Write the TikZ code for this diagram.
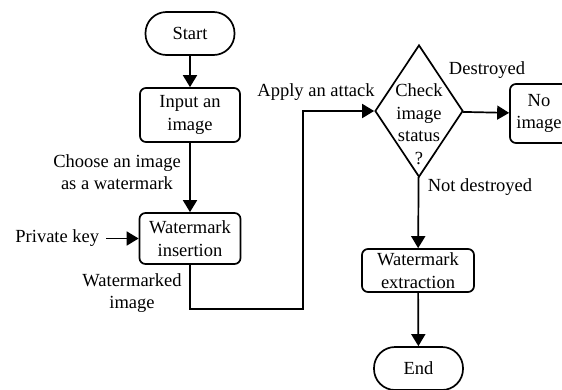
\documentclass[tikz,border=0pt]{standalone}
\usepackage{fontspec}
\setmainfont{Liberation Serif}
\usetikzlibrary{shapes.geometric,positioning,arrows.meta}
\tikzset{
  terminal/.style={draw,rounded corners=21pt,minimum width=89pt,minimum height=43pt,inner sep=1pt},
  process/.style={draw,rounded corners=6pt,align=center,inner sep=1pt},
  decision/.style={draw,diamond,minimum width=88pt,minimum height=132pt,inner sep=0pt},
  note/.style={align=center,inner sep=0pt},
  >={Triangle[length=12pt,width=14pt]},
}

\begin{document}
\begin{tikzpicture}[x=1pt,y=-1pt,line width=1.7pt,font=\fontsize{18.5}{22.5}\selectfont]
  \clip (0,0) rectangle (562,389);
  \node[terminal]                                          (start) at (190,33.5)  {Start};
  \node[process,minimum width=100pt,minimum height=54pt]   (input) at (190,115)   {Input an\\image};
  \node[process,minimum width=101pt,minimum height=51pt]   (ins)   at (190,238.5) {Watermark\\insertion};
  \node[decision]                                          (chk)   at (419,111)   {};
  \node[note]                                              (chkt)  at (419,124)   {Check\\image\\status\\?};
  \node[process,minimum width=58pt,minimum height=59pt]    (noimg) at (539,113.5) {No\\image};
  \node[process,minimum width=112pt,minimum height=43pt]   (ext)   at (418,270.5) {Watermark\\extraction};
  \node[terminal]                                          (end)   at (418.5,368.5) {End};
  % labels
  \node[note]                   (choose) at (117,172) {Choose an image\\as a watermark};
  \coordinate                   (pk)     at (106,238.5);
  \node[note,left=6pt of pk]    (pkt)    {Private key};
  \node[note]                   (wmd)    at (132,293) {Watermarked\\image};
  \node[note]                   (att)    at (316,92)  {Apply an attack};
  \node[note]                   (des)    at (487,70)  {Destroyed};
  \node[note]                   (ndes)   at (480,187) {Not destroyed};
  \coordinate                   (turn)   at (303,309);
  \path[->]
    (start) edge (input)
    (input) edge (ins)
    (pk)    edge (ins)
    (chk)   edge (noimg)
    (chk)   edge (ext)
    (ext)   edge (end);
  \draw[->] (ins.south) |- (turn) |- (chk.west);
\end{tikzpicture}
\end{document}
